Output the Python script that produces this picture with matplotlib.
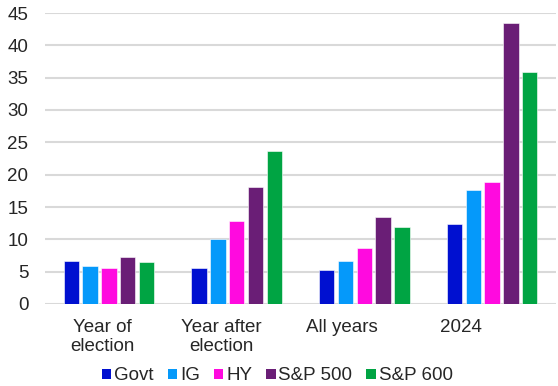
import numpy as np
from matplotlib import pyplot
from matplotlib.patches import Patch

categories = ["Year of\nelection", "Year after\nelection", "All years", "2024"]
series = ["Govt", "IG", "HY", "S&P 500", "S&P 600"]
govt = [6.65, 5.6, 5.25, 12.4]
ig = [5.95, 10.0, 6.65, 17.7]
hy = [5.6, 12.9, 8.6, 18.8]
sp500 = [7.2, 18.1, 13.4, 43.5]
sp600 = [6.5, 23.6, 11.85, 35.8]
colors = ["#0010D0", "#0599FA", "#FF0ADF", "#6A1E76", "#00A443"]

pyplot.rcParams["font.family"] = ["Liberation Sans", "DejaVu Sans"]
text_color = "#262626"

fig = pyplot.figure(figsize=(5.58, 3.86), dpi=100)
ax = fig.add_axes([45 / 558, 82 / 386, 511 / 558, 291 / 386])

x = np.arange(len(categories))
slot = 0.147
width = 0.12
for i, (name, vals) in enumerate(zip(series, [govt, ig, hy, sp500, sp600])):
    ax.bar(x + (i - 2) * slot, vals, width=width, color=colors[i],
           edgecolor="white", linewidth=0.4, zorder=3, label=name)

ax.set_xlim(-0.5, len(categories) - 0.5)
ax.set_ylim(0, 45)
ax.set_yticks(np.arange(0, 46, 5))
ax.yaxis.grid(True, color="#D9D9D9", lw=1.5, zorder=0)
for s in ax.spines.values():
    s.set_visible(False)
ax.tick_params(axis="y", length=0, pad=12, labelsize=13.5, labelcolor=text_color)

# category labels sit slightly left of the bar groups, as in the source
ax.set_xticks(-0.054 + 0.937 * x)
ax.set_xticklabels(categories, fontsize=13.5, color=text_color, linespacing=1.1)
ax.tick_params(axis="x", length=0, pad=11)

handles = [Patch(facecolor=c, edgecolor="none") for c in colors]
fig.legend(handles, series, loc="center", bbox_to_anchor=(0.497, 10 / 386),
           ncol=5, frameon=False, fontsize=13.5, handlelength=0.5,
           handleheight=0.5, handletextpad=0.15, columnspacing=0.75,
           labelcolor=text_color)

pyplot.savefig("out.png", dpi=100)
